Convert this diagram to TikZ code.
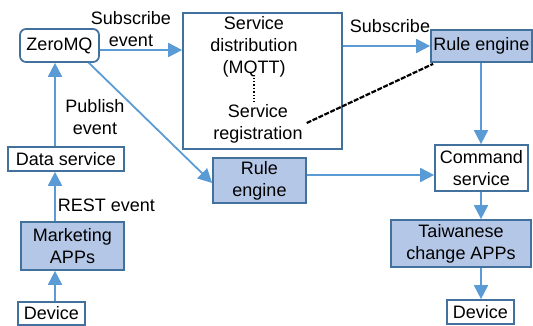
\documentclass[tikz,border=0pt]{standalone}
\usepackage{fontspec}
\setmainfont{Liberation Sans}
\usetikzlibrary{arrows.meta,calc}
\definecolor{bord}{HTML}{41719C}
\definecolor{arr}{HTML}{5B9BD5}
\definecolor{fillb}{HTML}{B4C7E7}
\begin{document}
\begin{tikzpicture}[x=1pt,y=-1pt,
  every node/.style={font=\fontsize{18}{22}\selectfont, inner sep=0pt, align=center},
  plainbox/.style={draw=bord, line width=1.7pt, fill=white},
  filledbox/.style={draw=bord, line width=1.7pt, fill=fillb},
  conn/.style={draw=arr, line width=1.8pt, -{Triangle[length=14pt,width=14pt]}},
  dashlink/.style={draw=black, line width=2.2pt, dash pattern=on 5pt off 1.5pt},
  dotlink/.style={draw=black, line width=1.4pt, dotted}]
\useasboundingbox (0,0) rectangle (533,326);
\coordinate (lc) at (55,0);
\coordinate (rc) at (481,0);
\coordinate (mc) at (254,0);
% nodes
\node[plainbox, rounded corners=6pt, minimum width=79pt, minimum height=33pt] (zm) at (59.5,45.5) {ZeroMQ};
\node[plainbox, minimum width=159pt, minimum height=136pt] (sd) at (262.5,81) {};
\node (sdt) at (254,47) {Service\\distribution\\(MQTT)};
\node (sr) at (258,124) {Service\\registration};
\node[filledbox, minimum width=101pt, minimum height=32pt] (re1) at (481.5,46) {Rule engine};
\node[plainbox, minimum width=116pt, minimum height=24pt] (ds) at (66,159) {Data service};
\node[filledbox, minimum width=103pt, minimum height=48pt] (ma) at (72.5,246) {Marketing\\APPs};
\node[plainbox, minimum width=67pt, minimum height=23pt] (dv1) at (51.5,313.5) {Device};
\node[filledbox, minimum width=93pt, minimum height=45pt] (re2) at (259.5,180.5) {Rule\\engine};
\node[plainbox, minimum width=93pt, minimum height=46pt] (cs) at (481.5,168) {Command\\service};
\node[filledbox, minimum width=140pt, minimum height=47pt] (tw) at (461,243.5) {Taiwanese\\change APPs};
\node[plainbox, minimum width=67pt, minimum height=24pt] (dv2) at (480.5,312) {Device};
% labels
\node (l1) at (131,29) {Subscribe\\event};
\node (l2) at (95,117) {Publish\\event};
\node (l3) at (106.5,205) {REST event};
\node (l4) at (390,26) {Subscribe};
% connectors
\draw[conn] (dv1.north -| lc) -- (ma.south -| lc);
\draw[conn] (ma.north -| lc) -- (ds.south -| lc);
\draw[conn] (ds.north -| lc) -- (zm.south -| lc);
\coordinate (z1) at ([yshift=-4.5pt]zm.east);
\draw[conn] (z1) -- (z1 -| sd.west);
\draw[conn] (re1.west -| sd.east) -- (re1.west);
\draw[conn] ([xshift=-11pt]zm.south east) -- ([yshift=-2.5pt]re2.west);
\coordinate (r2e) at ([yshift=5.5pt]re2.east);
\draw[conn] (r2e) -- (r2e -| cs.west);
\draw[conn] (re1.south -| rc) -- (cs.north -| rc);
\draw[conn] (cs.south -| rc) -- (tw.north -| rc);
\draw[conn] (tw.south -| rc) -- (dv2.north -| rc);
\draw[dotlink, shorten >=3pt] (sdt.south -| mc) -- (sr.north -| mc);
\draw[dashlink] ([xshift=4pt,yshift=1pt]sr.east) -- ([xshift=3pt,yshift=-1pt]re1.south west);
\end{tikzpicture}
\end{document}
